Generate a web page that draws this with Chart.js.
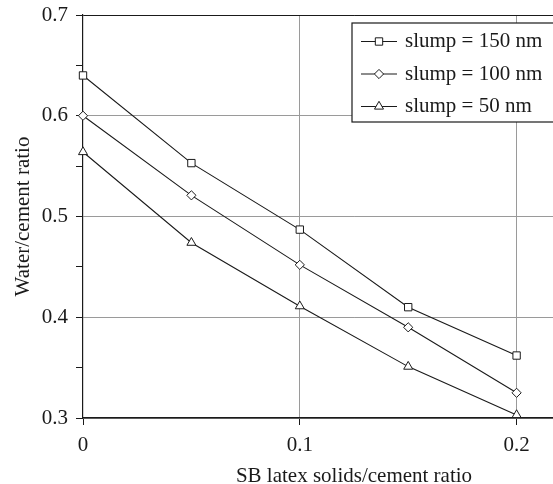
<!DOCTYPE html>
<html>
<head>
<meta charset="utf-8">
<script src="https://cdn.jsdelivr.net/npm/chart.js@4/dist/chart.umd.min.js"></script>
<style>
  html, body { margin: 0; padding: 0; background: #fff; overflow: hidden; }
  #wrap { width: 640px; height: 484px; }
</style>
</head>
<body>
<div id="wrap"><canvas id="chart" width="640" height="484"></canvas></div>
<script>
// data
const xValues = [0, 0.05, 0.1, 0.15, 0.2];
const slump150 = [0.640, 0.553, 0.487, 0.410, 0.362];
const slump100 = [0.600, 0.521, 0.452, 0.390, 0.325];
const slump50 = [0.564, 0.474, 0.411, 0.351, 0.303];
const seriesLabels = ['slump = 150 nm', 'slump = 100 nm', 'slump = 50 nm'];
const xTicks = [0, 0.1, 0.2];

const FONT = '"Liberation Serif", "Times New Roman", serif';
const INK = '#1a1a1a';

function pts(ys) {
  return xValues.map((x, i) => ({ x: x, y: ys[i] }));
}
function isMajor(v) {
  return Math.abs(v * 10 - Math.round(v * 10)) < 1e-6;
}

function series(label, ys, style, r) {
  return {
    label: label,
    data: pts(ys),
    borderColor: INK,
    borderWidth: 1.1,
    pointStyle: style,
    pointRadius: r,
    pointBorderWidth: 1,
    pointBorderColor: INK,
    pointBackgroundColor: '#fff',
    tension: 0,
    fill: false,
    clip: false
  };
}

// boxed legend with line-through markers, like the original
const legendBox = {
  id: 'legendBox',
  afterDraw(chart) {
    const ctx = chart.ctx;
    const left = 352, top = 23, w = 220, h = 99;
    ctx.save();
    ctx.fillStyle = '#fff';
    ctx.fillRect(left, top, w, h);
    ctx.strokeStyle = INK;
    ctx.lineWidth = 1.2;
    ctx.strokeRect(left, top, w, h);
    chart.data.datasets.forEach((ds, i) => {
      const y = 41.5 + i * 32.5;
      ctx.strokeStyle = INK;
      ctx.lineWidth = 1.1;
      ctx.beginPath();
      ctx.moveTo(361, y);
      ctx.lineTo(397, y);
      ctx.stroke();
      ctx.fillStyle = '#fff';
      ctx.lineWidth = 1;
      Chart.helpers.drawPoint(ctx, { pointStyle: ds.pointStyle, radius: ds.pointRadius, borderWidth: 1 }, 379, y);
      ctx.fillStyle = INK;
      ctx.font = '21px ' + FONT;
      ctx.textBaseline = 'middle';
      ctx.textAlign = 'left';
      ctx.fillText(ds.label, 405, y);
    });
    ctx.restore();
  }
};

new Chart(document.getElementById('chart'), {
  type: 'line',
  data: {
    datasets: [
      series(seriesLabels[0], slump150, 'rect', 5.2),
      series(seriesLabels[1], slump100, 'rectRot', 4.6),
      series(seriesLabels[2], slump50, 'triangle', 5.2)
    ]
  },
  options: {
    responsive: false,
    animation: false,
    layout: { autoPadding: false, padding: { top: 15, right: 15, left: 0, bottom: 0 } },
    plugins: {
      legend: { display: false },
      tooltip: { enabled: false }
    },
    scales: {
      x: {
        type: 'linear',
        min: 0,
        max: 0.25,
        afterBuildTicks: (s) => { s.ticks = xTicks.map(v => ({ value: v })); },
        afterFit: (s) => { s.height = 66; s.paddingLeft = 0; s.paddingRight = 0; },
        border: { color: INK, width: 1.6 },
        grid: {
          color: (c) => (c.tick && c.tick.value > 0 ? '#9a9a9a' : 'rgba(0,0,0,0)'),
          lineWidth: 1,
          tickColor: INK,
          tickLength: 7
        },
        ticks: {
          color: INK,
          padding: 8,
          maxRotation: 0,
          font: { family: FONT, size: 21 },
          callback: (v) => (v === 0 ? '0' : String(v))
        },
        title: {
          display: true,
          text: 'SB latex solids/cement ratio',
          color: INK,
          font: { family: FONT, size: 21, lineHeight: 1 },
          padding: { top: 0, bottom: -3 }
        }
      },
      y: {
        min: 0.3,
        max: 0.7,
        afterFit: (s) => { s.width = 83; s.paddingTop = 0; s.paddingBottom = 0; },
        border: { color: INK, width: 1.2 },
        grid: {
          color: (c) => {
            const v = c.tick ? c.tick.value : 0;
            if (!isMajor(v)) return 'rgba(0,0,0,0)';
            if (Math.abs(v - 0.7) < 1e-6) return INK;
            return '#9a9a9a';
          },
          lineWidth: 1,
          tickColor: INK,
          tickLength: 7
        },
        ticks: {
          stepSize: 0.05,
          color: INK,
          padding: 8,
          font: { family: FONT, size: 21 },
          callback: (v) => (isMajor(v) ? (Math.round(v * 10) / 10).toFixed(1) : '')
        },
        title: {
          display: true,
          text: 'Water/cement ratio',
          color: INK,
          font: { family: FONT, size: 21, lineHeight: 1 },
          padding: { top: 13, bottom: 0 }
        }
      }
    }
  },
  plugins: [legendBox]
});
</script>
</body>
</html>
